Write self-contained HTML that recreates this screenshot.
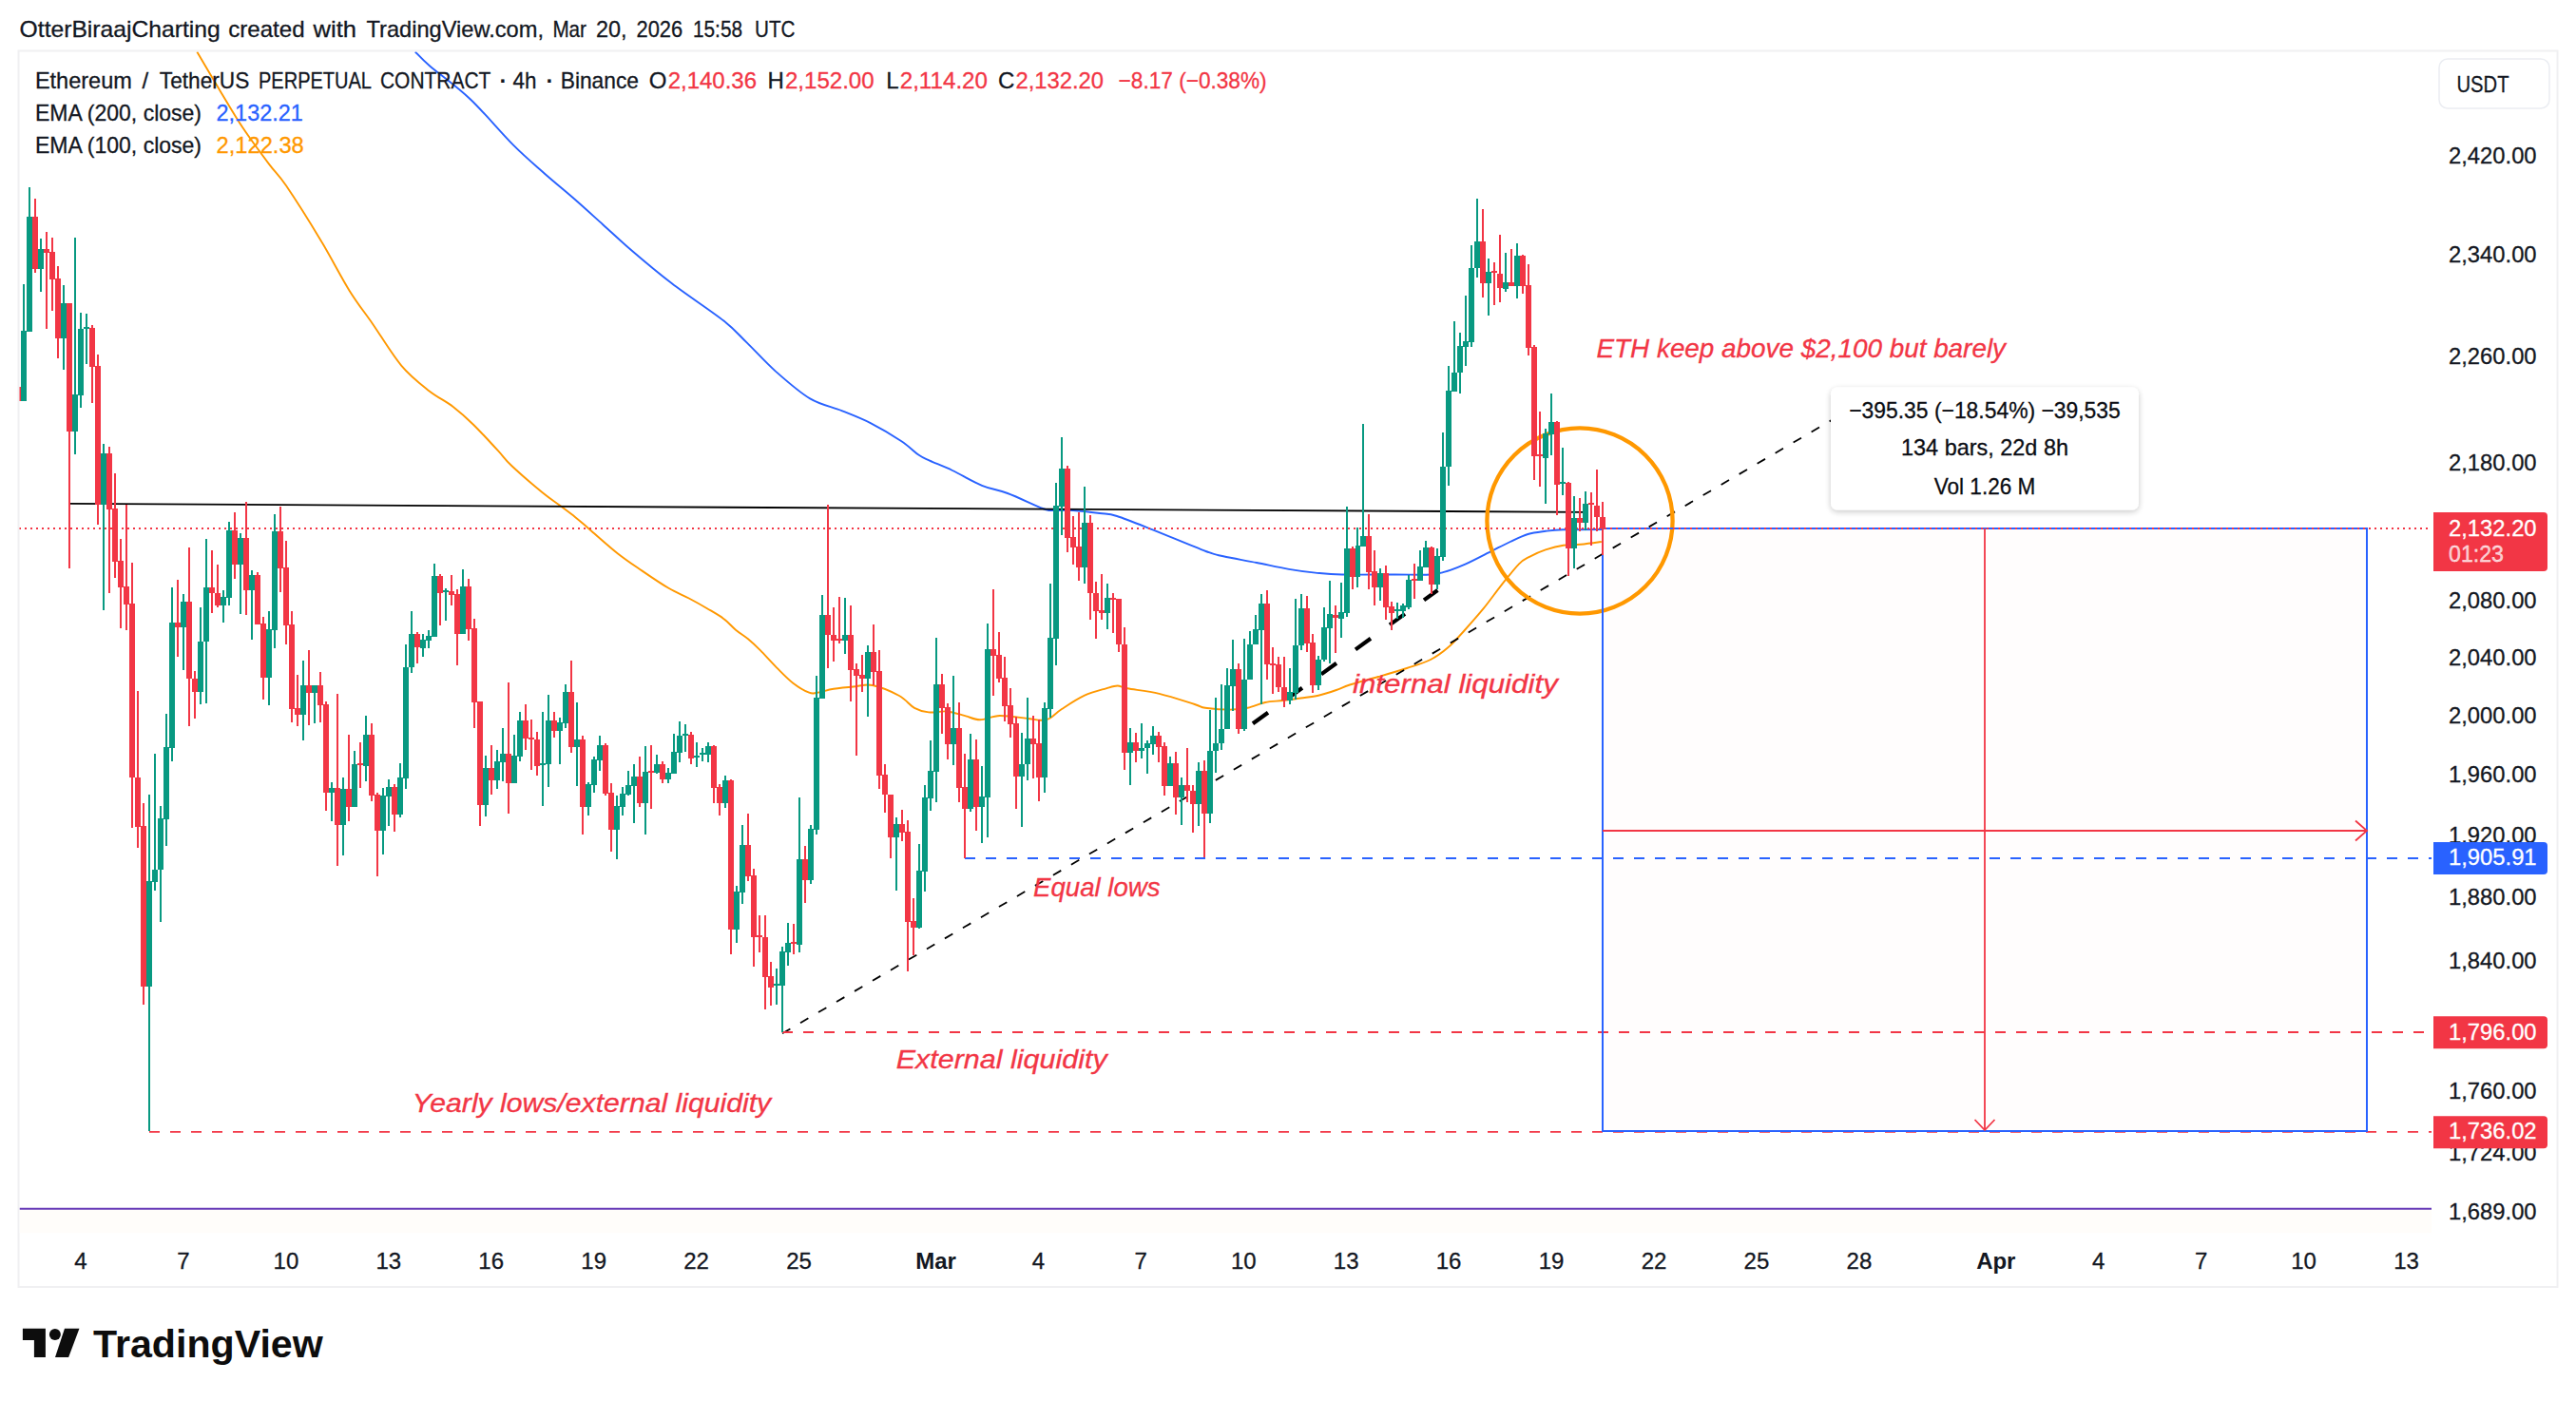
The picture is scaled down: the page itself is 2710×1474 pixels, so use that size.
<!DOCTYPE html>
<html><head><meta charset="utf-8"><title>ETHUSDT chart</title>
<style>html,body{margin:0;padding:0;background:#fff}svg{display:block}text{font-family:"Liberation Sans", "DejaVu Sans", sans-serif}</style>
</head><body>
<svg width="2710" height="1474" viewBox="0 0 2710 1474">
<rect width="2710" height="1474" fill="#fff"/>
<rect x="19.5" y="53.5" width="2671" height="1300.5" fill="#fff" stroke="#f0f0f2" stroke-width="2"/>
<defs><clipPath id="pane"><rect x="20.5" y="54.5" width="2537.5" height="1243"/></clipPath></defs>
<g clip-path="url(#pane)">
<rect x="20.5" y="1272" width="2537.5" height="25.6" fill="#fffdfa"/>
<rect x="1686" y="556" width="804" height="634" fill="#fffdfd"/>
<path d="M436.8 54.5C439.4 57 442.8 61.4 452.5 69.7C462.2 78 480.3 90.6 494.9 104.5C509.5 118.4 527.2 139.8 540.3 152.9C553.4 166 563 173.8 573.6 183.2C584.2 192.5 593.8 200.2 603.9 209C614 217.8 624.1 227.1 634.2 236.2C644.3 245.3 652.4 253.2 664.5 263.5C676.6 273.9 690.8 285.9 706.9 298.3C723 310.7 748.3 327.2 761.4 337.6C774.5 348 776.5 351.6 785.6 360.4C794.7 369.2 804.8 380.8 815.9 390.6C827 400.4 840.6 412.5 852.2 419.4C863.8 426.3 874.9 427.8 885.5 432.1C896.1 436.4 905.4 439.8 915.8 445.1C926.2 450.4 939.5 458.4 948 464C956.5 469.6 961.7 475.4 966.7 478.8C971.7 482.2 972.1 482 978 484.7C983.9 487.4 992.8 490.6 1002 495C1011.2 499.4 1023.3 506.8 1033 510.8C1042.7 514.8 1049.3 515 1060 519C1070.7 523 1089 532 1097 535C1105 538 1102.7 536.7 1108 537C1113.3 537.3 1120.8 536.5 1129 537C1137.2 537.5 1149.3 539 1157 540C1164.7 541 1165.7 540.1 1175 543C1184.3 545.9 1197.1 551.2 1212.7 557.4C1228.3 563.6 1256.1 575.4 1268.5 580C1280.9 584.6 1278.1 583.3 1287 585.3C1295.9 587.3 1310.5 589.7 1322 592C1333.5 594.3 1345.7 597.1 1356 598.9C1366.3 600.7 1374.5 601.7 1383.8 602.6C1393.1 603.5 1397.8 604.2 1411.8 604.5C1425.8 604.8 1452.2 604.5 1467.7 604.5C1483.2 604.5 1496.3 605 1505 604.5C1513.7 604 1513.7 603.6 1519.9 601.7C1526.1 599.8 1533.7 597 1542 593.3C1550.3 589.6 1562.2 583.2 1570 579.3C1577.8 575.4 1582.6 572.9 1588.8 570C1595 567.1 1601.2 563.9 1607.4 562C1613.6 560.1 1619.8 559.6 1626 558.8C1632.2 558 1634.6 557.6 1644.7 557.3C1654.8 557 1679.6 557 1686.6 557" fill="none" stroke="#2962FF" stroke-width="1.9" stroke-linejoin="round"/>
<path d="M207.3 54.5C211.3 61.3 223.4 82 231.5 95.4C239.6 108.8 247.1 121.9 255.7 134.8C264.3 147.7 275.4 162.5 283 172.6C290.6 182.7 291.9 181.9 301 195.3C310.1 208.7 326.4 234.5 337.5 252.9C348.6 271.3 358.6 291.3 367.7 305.9C376.8 320.5 382.9 327.6 392 340.7C401.1 353.8 412.4 372.9 422.2 384.6C432 396.3 441.9 403.7 451 410.9C460.1 418.1 468.9 421.9 476.7 427.9C484.5 433.9 490.2 439 498 446.7C505.8 454.4 517 466.6 523.7 473.9C530.5 481.2 530.7 482.9 538.5 490.3C546.3 497.7 562.1 511.2 570.7 518.2C579.3 525.2 584.3 528.2 590 532.5C595.7 536.8 600 539.9 605 543.9C610 547.9 612.5 550.3 620 556.7C627.5 563.1 640.7 575.1 650 582.4C659.3 589.7 666.7 594.5 675.6 600.6C684.5 606.7 695.2 614 703.4 618.8C711.6 623.6 718 625.9 724.8 629.5C731.6 633.1 737.9 636.6 744 640.2C750.1 643.8 756.2 647.1 761.2 650.9C766.2 654.6 769.7 659.1 774 662.7C778.3 666.3 782.7 668.7 787 672.3C791.3 675.9 794.8 679.1 799.8 684.1C804.8 689.1 811.3 696.6 817 702.3C822.7 708 828.3 714 834 718.4C839.7 722.8 846.9 727 851.2 728.7C855.5 730.4 855.4 729.4 859.7 728.7C864 728.1 870.3 725.9 877 724.8C883.7 723.7 893.2 722.8 900 722.2C906.8 721.6 910.3 719.4 918 721C925.7 722.6 938.7 728 946 732C953.3 736 956.8 741.9 962 744.8C967.2 747.7 971.3 748.8 977 749.4C982.7 750 989.8 747.9 996 748.5C1002.2 749.1 1008.7 751.3 1014.5 752.8C1020.3 754.3 1024.8 757.3 1031 757.3C1037.2 757.3 1043.4 753.2 1051.8 753C1060.2 752.8 1074.5 755.2 1081.6 756C1088.7 756.8 1090.9 757.8 1094.6 757.8C1098.3 757.8 1100.3 758 1104 756C1107.7 754 1110.8 750 1117 746C1123.2 742 1133.2 735.3 1141 731.7C1148.8 728.1 1157.8 726 1163.6 724.3C1169.4 722.6 1172 721.5 1175.7 721.5C1179.4 721.5 1178.7 722.9 1186 724.3C1193.3 725.7 1207.7 727.1 1219.5 729.9C1231.3 732.7 1248.7 738.5 1256.8 741C1264.9 743.5 1261.8 743.9 1268 744.8C1274.2 745.7 1286.6 746.6 1294 746.6C1301.4 746.6 1306.4 746.1 1312.6 744.8C1318.8 743.5 1324.8 740.3 1331 739C1337.2 737.7 1343.8 737.8 1350 737C1356.2 736.2 1362.3 735.4 1368.5 734.5C1374.7 733.6 1380.8 733.1 1387 731.7C1393.2 730.3 1400.3 727.9 1405.8 726C1411.3 724.1 1412.6 722.8 1420 720.5C1427.4 718.2 1440 714.9 1450 712C1460 709.1 1470.8 706 1480 703C1489.2 700 1497.7 697.7 1505 694C1512.3 690.3 1517.8 686 1523.6 681C1529.4 676 1533.8 670.9 1540 664C1546.2 657.1 1554.3 648 1560.9 639.9C1567.5 631.8 1573.3 623.4 1579.5 615.6C1585.7 607.8 1593.1 598.3 1598 593.3C1602.9 588.3 1604.3 588.3 1609 585.8C1613.7 583.3 1620 580.4 1626 578.4C1632 576.4 1638.5 574.6 1644.7 573.7C1650.9 572.8 1656.3 573.4 1663 572.8C1669.7 572.2 1681.2 570.5 1684.8 570" fill="none" stroke="#FF9800" stroke-width="1.9" stroke-linejoin="round"/>
<path d="M823 1087.3L1935 437.3" stroke="#000" stroke-width="1.8" stroke-dasharray="9.7 12.3" fill="none"/>
<path d="M1318 761.3L1512.4 621" stroke="#000" stroke-width="4.2" stroke-dasharray="19.7 24.7" fill="none"/>
<path d="M157 1190.8H2558" stroke="#F23645" stroke-width="1.8" stroke-dasharray="11 11" fill="none"/>
<path d="M823 1086H2558" stroke="#F23645" stroke-width="1.8" stroke-dasharray="11 11" fill="none"/>
<path d="M1015 903H2558" stroke="#2962FF" stroke-width="2" stroke-dasharray="11 11" fill="none"/>
<path d="M73 529.9L1668 538.8" stroke="#000" stroke-width="1.8" fill="none"/>
<circle cx="1662" cy="548" r="97.6" fill="none" stroke="#FF9800" stroke-width="4.3"/>
<rect x="1686" y="556" width="804" height="634" fill="none" stroke="#2962FF" stroke-width="2"/>
<path d="M20 556H2558" stroke="#F23645" stroke-width="2" stroke-dasharray="2 4" fill="none"/>
<path d="M20.5 1271.8H2558" stroke="#673AB7" stroke-width="2" fill="none"/>
<path d="M25 299V422M31 197V349M43 251V307M67 300V389M79 250V478M85 329V429M91 330V383M109 467V642M157 836V1190M163 793V937M169 848V970M175 751V890M181 618V801M193 625V705M211 639V741M217 567V740M235 621V655M241 549V637M253 561V646M265 600V673M283 643V742M289 541V682M319 695V779M331 721V761M349 823V864M361 818V900M373 790V849M385 753V822M403 829V899M409 820V869M421 803V860M427 678V830M433 643V708M445 667V691M451 663V682M457 593V670M469 619V653M487 599V667M511 795V859M523 789V830M529 766V822M541 773V824M547 749V801M571 749V848M577 731V828M589 755V804M595 720V766M607 739V827M619 823V858M625 796V834M631 774V811M649 837V904M655 828V858M661 811V837M667 804V866M679 785V878M691 794V814M703 808V824M709 772V814M715 759V802M721 762V791M733 781V807M739 787V801M745 781V802M763 816V850M775 932V992M781 868V951M817 1019V1057M823 996V1086M829 971V1016M841 839V1002M853 868V930M859 711V878M865 626V735M889 629V688M913 679V754M943 860V937M967 888V977M973 826V938M979 779V853M985 671V844M1003 711V805M1021 772V854M1033 806V887M1039 656V881M1075 771V870M1081 734V821M1099 739V834M1105 614V755M1111 508V700M1117 460V563M1141 512V614M1165 614V662M1189 766V826M1201 761V798M1207 779V814M1213 764V794M1231 796V827M1243 818V868M1261 802V869M1273 747V866M1279 734V813M1285 720V789M1291 703V767M1297 673V748M1309 672V769M1315 664V715M1321 647V678M1327 625V741M1357 703V741M1363 630V736M1369 625V684M1387 690V726M1393 639V696M1399 611V698M1411 613V671M1417 533V649M1428 555V618M1434 446V575M1452 598V632M1470 634V651M1476 635V650M1482 605V641M1494 579V611M1500 569V597M1512 577V620M1518 455V590M1524 385V511M1530 338V412M1536 350V414M1542 311V385M1548 258V365M1554 209V292M1566 272V332M1584 266V307M1596 256V314M1626 451V530M1632 414V479M1644 471V521M1656 522V598M1668 517V558" stroke="#089981" stroke-width="2" fill="none"/>
<path d="M22 348h6v74h-6zM28 228h6v121h-6zM40 262h6v21h-6zM64 319h6v37h-6zM76 415h6v39h-6zM82 346h6v70h-6zM88 344h6v2h-6zM106 477h6v54h-6zM154 927h6v111h-6zM160 915h6v13h-6zM166 861h6v54h-6zM172 786h6v76h-6zM178 655h6v132h-6zM190 633h6v27h-6zM208 675h6v53h-6zM214 618h6v57h-6zM232 628h6v9h-6zM238 558h6v71h-6zM250 566h6v28h-6zM262 605h6v16h-6zM280 662h6v51h-6zM286 559h6v104h-6zM316 721h6v31h-6zM328 721h6v8h-6zM346 829h6v5h-6zM358 830h6v38h-6zM370 804h6v45h-6zM382 773h6v33h-6zM400 837h6v37h-6zM406 828h6v10h-6zM418 818h6v39h-6zM424 702h6v117h-6zM430 667h6v35h-6zM442 673h6v9h-6zM448 669h6v5h-6zM454 606h6v64h-6zM466 621h6v2h-6zM484 617h6v50h-6zM508 808h6v39h-6zM520 801h6v20h-6zM526 793h6v9h-6zM538 795h6v29h-6zM544 758h6v38h-6zM568 803h6v2h-6zM574 758h6v46h-6zM586 760h6v9h-6zM592 728h6v33h-6zM604 778h6v8h-6zM616 825h6v24h-6zM622 799h6v27h-6zM628 784h6v16h-6zM646 848h6v25h-6zM652 835h6v14h-6zM658 826h6v10h-6zM664 817h6v10h-6zM676 812h6v33h-6zM688 804h6v9h-6zM700 813h6v7h-6zM706 791h6v23h-6zM712 774h6v18h-6zM718 772h6v2h-6zM730 795h6v2h-6zM736 792h6v2h-6zM742 785h6v9h-6zM760 821h6v24h-6zM772 938h6v40h-6zM778 889h6v50h-6zM814 1035h6v2h-6zM820 1001h6v36h-6zM826 992h6v10h-6zM838 904h6v90h-6zM850 872h6v54h-6zM856 734h6v139h-6zM862 647h6v88h-6zM886 668h6v6h-6zM910 686h6v28h-6zM940 867h6v14h-6zM964 916h6v60h-6zM970 839h6v78h-6zM976 811h6v29h-6zM982 720h6v92h-6zM1000 766h6v17h-6zM1018 799h6v52h-6zM1030 838h6v11h-6zM1036 683h6v156h-6zM1072 804h6v13h-6zM1078 777h6v27h-6zM1096 745h6v73h-6zM1102 671h6v75h-6zM1108 532h6v140h-6zM1114 493h6v40h-6zM1138 550h6v47h-6zM1162 629h6v16h-6zM1186 781h6v11h-6zM1198 787h6v3h-6zM1204 782h6v5h-6zM1210 774h6v9h-6zM1228 803h6v24h-6zM1240 826h6v13h-6zM1258 811h6v35h-6zM1270 790h6v66h-6zM1276 782h6v8h-6zM1282 767h6v15h-6zM1288 721h6v46h-6zM1294 704h6v18h-6zM1306 715h6v52h-6zM1312 678h6v37h-6zM1318 662h6v16h-6zM1324 635h6v28h-6zM1354 728h6v9h-6zM1360 679h6v50h-6zM1366 640h6v39h-6zM1384 694h6v27h-6zM1390 660h6v34h-6zM1396 646h6v15h-6zM1408 644h6v7h-6zM1414 577h6v68h-6zM1426 574h5v33h-5zM1431 564h6v11h-6zM1449 603h6v15h-6zM1467 641h6v2h-6zM1473 637h6v6h-6zM1479 610h6v29h-6zM1491 596h6v15h-6zM1497 576h6v21h-6zM1509 585h6v30h-6zM1515 491h6v95h-6zM1521 411h6v80h-6zM1527 392h6v20h-6zM1533 364h6v28h-6zM1539 359h6v6h-6zM1545 282h6v78h-6zM1551 254h6v28h-6zM1563 286h6v12h-6zM1581 297h6v7h-6zM1593 269h6v32h-6zM1623 456h6v26h-6zM1629 444h6v13h-6zM1641 507h6v2h-6zM1653 545h6v32h-6zM1665 530h6v20h-6z" fill="#089981"/>
<path d="M19 407V422M37 209V287M49 244V346M55 250V327M61 280V377M73 319V598M97 342V424M103 373V552M115 470V624M121 498V608M127 567V661M133 531V663M139 592V871M145 727V892M151 845V1057M187 610V691M199 576V764M205 706V756M223 579V645M229 594V639M247 539V609M259 528V647M271 602V657M277 649V736M295 533V623M301 569V678M307 643V760M313 710V764M325 684V763M337 707V760M343 738V853M355 730V911M367 773V864M379 781V829M391 761V843M397 834V922M415 825V875M439 665V698M463 604V658M475 605V637M481 620V700M493 609V674M499 651V766M505 738V869M517 784V836M535 718V856M553 741V789M559 757V810M565 770V816M583 749V776M601 695V792M613 774V878M637 782V837M643 824V896M673 796V849M685 784V851M697 801V824M727 770V804M751 784V845M757 825V858M769 820V1004M787 856V927M793 914V1017M799 963V1002M805 963V1062M811 1012V1058M835 972V1004M847 890V950M871 531V703M877 639V696M883 628V677M895 637V738M901 698V795M907 689V728M919 657V721M925 684V830M931 804V855M937 836V903M949 852V885M955 863V1022M961 945V1005M991 709V772M997 740V799M1009 739V844M1015 793V903M1027 778V874M1045 620V732M1051 665V718M1057 691V759M1063 724V776M1069 754V851M1087 753V819M1093 757V843M1123 490V581M1129 543V594M1135 539V611M1147 542V652M1153 612V672M1159 604V652M1171 624V666M1177 630V686M1183 660V810M1195 771V802M1219 770V802M1225 781V837M1237 791V857M1249 787V844M1255 826V876M1267 800V902M1303 698V772M1333 621V715M1339 681V730M1345 691V728M1351 691V744M1375 627V686M1381 667V729M1405 637V687M1423 575V620M1440 541V620M1446 579V637M1458 595V652M1464 633V663M1488 593V630M1506 575V625M1560 220V313M1572 276V321M1578 247V318M1590 262V301M1602 268V309M1608 278V374M1614 363V505M1620 433V512M1638 443V542M1650 507V606M1662 524V559M1674 518V574M1680 494V559M1686 528V584" stroke="#F23645" stroke-width="2" fill="none"/>
<path d="M16 407h6v15h-6zM34 228h6v55h-6zM46 262h6v4h-6zM52 265h6v29h-6zM58 293h6v63h-6zM70 319h6v135h-6zM94 345h6v41h-6zM100 385h6v146h-6zM112 477h6v59h-6zM118 535h6v56h-6zM124 590h6v28h-6zM130 617h6v19h-6zM136 635h6v183h-6zM142 818h6v52h-6zM148 869h6v169h-6zM184 655h6v5h-6zM196 633h6v81h-6zM202 714h6v14h-6zM220 618h6v6h-6zM226 624h6v13h-6zM244 558h6v36h-6zM256 566h6v55h-6zM268 605h6v52h-6zM274 656h6v57h-6zM292 559h6v39h-6zM298 597h6v61h-6zM304 657h6v89h-6zM310 745h6v7h-6zM322 721h6v8h-6zM334 721h6v21h-6zM340 741h6v93h-6zM352 829h6v39h-6zM364 830h6v19h-6zM376 803h6v2h-6zM388 773h6v64h-6zM394 836h6v38h-6zM412 828h6v29h-6zM436 667h6v14h-6zM460 606h6v18h-6zM472 622h6v4h-6zM478 625h6v42h-6zM490 617h6v45h-6zM496 661h6v78h-6zM502 738h6v109h-6zM514 808h6v13h-6zM532 793h6v31h-6zM550 758h6v19h-6zM556 776h6v2h-6zM562 778h6v28h-6zM580 758h6v11h-6zM598 728h6v58h-6zM610 778h6v71h-6zM634 784h6v51h-6zM640 834h6v39h-6zM670 817h6v28h-6zM682 811h6v2h-6zM694 804h6v16h-6zM724 773h6v25h-6zM748 785h6v44h-6zM754 828h6v17h-6zM766 821h6v157h-6zM784 889h6v33h-6zM790 921h6v65h-6zM796 984h6v2h-6zM802 986h6v42h-6zM808 1027h6v12h-6zM832 991h6v2h-6zM844 904h6v22h-6zM868 647h6v21h-6zM874 668h6v6h-6zM880 672h6v2h-6zM892 668h6v37h-6zM898 704h6v7h-6zM904 710h6v4h-6zM916 686h6v21h-6zM922 706h6v110h-6zM928 815h6v21h-6zM934 836h6v45h-6zM946 867h6v9h-6zM952 875h6v95h-6zM958 969h6v7h-6zM988 720h6v25h-6zM994 744h6v39h-6zM1006 766h6v63h-6zM1012 828h6v23h-6zM1024 799h6v50h-6zM1042 683h6v7h-6zM1048 689h6v25h-6zM1054 713h6v30h-6zM1060 742h6v20h-6zM1066 761h6v56h-6zM1084 777h6v6h-6zM1090 782h6v36h-6zM1120 493h6v73h-6zM1126 565h6v11h-6zM1132 575h6v22h-6zM1144 550h6v74h-6zM1150 624h6v19h-6zM1156 642h6v3h-6zM1168 629h6v2h-6zM1174 630h6v48h-6zM1180 678h6v114h-6zM1192 781h6v9h-6zM1216 774h6v12h-6zM1222 785h6v42h-6zM1234 803h6v36h-6zM1246 826h6v6h-6zM1252 832h6v14h-6zM1264 811h6v45h-6zM1300 704h6v63h-6zM1330 635h6v64h-6zM1336 698h6v2h-6zM1342 699h6v24h-6zM1348 723h6v14h-6zM1372 640h6v37h-6zM1378 676h6v45h-6zM1402 647h6v3h-6zM1420 577h6v30h-6zM1437 564h6v38h-6zM1443 601h6v17h-6zM1455 603h6v36h-6zM1461 638h6v7h-6zM1485 609h6v2h-6zM1503 576h6v39h-6zM1557 254h6v44h-6zM1569 285h6v2h-6zM1575 288h6v15h-6zM1587 297h6v4h-6zM1599 269h6v32h-6zM1605 300h6v66h-6zM1611 365h6v115h-6zM1617 478h6v2h-6zM1635 444h6v66h-6zM1647 508h6v69h-6zM1659 545h6v5h-6zM1671 529h6v2h-6zM1677 532h6v12h-6zM1683 544h6v12h-6z" fill="#F23645"/>
<path d="M1686 874H2490M2478 863.5L2490 874L2478 884.5" stroke="#F23645" stroke-width="1.8" fill="none"/>
<path d="M2088 556V1189M2077.5 1178L2088 1189L2098.5 1178" stroke="#F23645" stroke-width="1.8" fill="none"/>
<text x="1679.5" y="376" font-size="28" fill="#F23645" font-style="italic" textLength="430.5" lengthAdjust="spacingAndGlyphs" stroke="#F23645" stroke-width="0.3">ETH keep above $2,100 but barely</text>
<text x="1423" y="729.2" font-size="28" fill="#F23645" font-style="italic" textLength="215.8" lengthAdjust="spacingAndGlyphs" stroke="#F23645" stroke-width="0.3">internal liquidity</text>
<text x="1087" y="943.4" font-size="28" fill="#F23645" font-style="italic" textLength="133.6" lengthAdjust="spacingAndGlyphs" stroke="#F23645" stroke-width="0.3">Equal lows</text>
<text x="942.7" y="1124" font-size="28" fill="#F23645" font-style="italic" textLength="222" lengthAdjust="spacingAndGlyphs" stroke="#F23645" stroke-width="0.3">External liquidity</text>
<text x="433.8" y="1170.2" font-size="28" fill="#F23645" font-style="italic" textLength="377.4" lengthAdjust="spacingAndGlyphs" stroke="#F23645" stroke-width="0.3">Yearly lows/external liquidity</text>
</g>
<defs><filter id="sh" x="-10%" y="-20%" width="120%" height="150%"><feGaussianBlur in="SourceAlpha" stdDeviation="3"/><feOffset dy="2"/><feComponentTransfer><feFuncA type="linear" slope="0.22"/></feComponentTransfer><feMerge><feMergeNode/><feMergeNode in="SourceGraphic"/></feMerge></filter></defs>
<rect x="1926" y="407.5" width="324" height="129" rx="7" fill="#fff" filter="url(#sh)"/>
<text x="2088" y="440" font-size="24" fill="#0b0d13" text-anchor="middle" textLength="285.5" lengthAdjust="spacingAndGlyphs" stroke="#0b0d13" stroke-width="0.3">−395.35 (−18.54%) −39,535</text>
<text x="2088" y="479.4" font-size="24" fill="#0b0d13" text-anchor="middle" textLength="176" lengthAdjust="spacingAndGlyphs" stroke="#0b0d13" stroke-width="0.3">134 bars, 22d 8h</text>
<text x="2088" y="519.6" font-size="24" fill="#0b0d13" text-anchor="middle" textLength="106.5" lengthAdjust="spacingAndGlyphs" stroke="#0b0d13" stroke-width="0.3">Vol 1.26 M</text>
<text x="36.9" y="92.8" font-size="24" fill="#131722" textLength="101.9" lengthAdjust="spacingAndGlyphs" stroke="#131722" stroke-width="0.3">Ethereum</text>
<text x="149.4" y="92.8" font-size="24" fill="#131722" stroke="#131722" stroke-width="0.3">/</text>
<text x="167.8" y="92.8" font-size="24" fill="#131722" textLength="94.5" lengthAdjust="spacingAndGlyphs" stroke="#131722" stroke-width="0.3">TetherUS</text>
<text x="272" y="92.8" font-size="24" fill="#131722" textLength="119" lengthAdjust="spacingAndGlyphs" stroke="#131722" stroke-width="0.3">PERPETUAL</text>
<text x="400" y="92.8" font-size="24" fill="#131722" textLength="116.3" lengthAdjust="spacingAndGlyphs" stroke="#131722" stroke-width="0.3">CONTRACT</text>
<text x="525.5" y="92.8" font-size="24" fill="#131722" font-weight="bold">·</text>
<text x="539.5" y="92.8" font-size="24" fill="#131722" textLength="24.9" lengthAdjust="spacingAndGlyphs" stroke="#131722" stroke-width="0.3">4h</text>
<text x="574.4" y="92.8" font-size="24" fill="#131722" font-weight="bold">·</text>
<text x="589.7" y="92.8" font-size="24" fill="#131722" textLength="82.3" lengthAdjust="spacingAndGlyphs" stroke="#131722" stroke-width="0.3">Binance</text>
<text x="701.5" y="92.8" font-size="24" fill="#131722" text-anchor="end" stroke="#131722" stroke-width="0.3">O</text>
<text x="702.7" y="92.8" font-size="24" fill="#F23645" textLength="93.3" lengthAdjust="spacingAndGlyphs" stroke="#F23645" stroke-width="0.3">2,140.36</text>
<text x="824.8" y="92.8" font-size="24" fill="#131722" text-anchor="end" stroke="#131722" stroke-width="0.3">H</text>
<text x="826" y="92.8" font-size="24" fill="#F23645" textLength="93.6" lengthAdjust="spacingAndGlyphs" stroke="#F23645" stroke-width="0.3">2,152.00</text>
<text x="945.5" y="92.8" font-size="24" fill="#131722" text-anchor="end" stroke="#131722" stroke-width="0.3">L</text>
<text x="946.7" y="92.8" font-size="24" fill="#F23645" textLength="92.3" lengthAdjust="spacingAndGlyphs" stroke="#F23645" stroke-width="0.3">2,114.20</text>
<text x="1067.3" y="92.8" font-size="24" fill="#131722" text-anchor="end" stroke="#131722" stroke-width="0.3">C</text>
<text x="1068.5" y="92.8" font-size="24" fill="#F23645" textLength="92.5" lengthAdjust="spacingAndGlyphs" stroke="#F23645" stroke-width="0.3">2,132.20</text>
<text x="1176.6" y="92.8" font-size="24" fill="#F23645" textLength="156" lengthAdjust="spacingAndGlyphs" stroke="#F23645" stroke-width="0.3">−8.17 (−0.38%)</text>
<text x="36.9" y="126.7" font-size="24" fill="#131722" textLength="175.1" lengthAdjust="spacingAndGlyphs" stroke="#131722" stroke-width="0.3">EMA (200, close)</text>
<text x="227.6" y="126.7" font-size="24" fill="#2962FF" textLength="91.1" lengthAdjust="spacingAndGlyphs" stroke="#2962FF" stroke-width="0.3">2,132.21</text>
<text x="36.9" y="160.8" font-size="24" fill="#131722" textLength="175.1" lengthAdjust="spacingAndGlyphs" stroke="#131722" stroke-width="0.3">EMA (100, close)</text>
<text x="227.6" y="160.8" font-size="24" fill="#FF9800" textLength="92.2" lengthAdjust="spacingAndGlyphs" stroke="#FF9800" stroke-width="0.3">2,122.38</text>
<rect x="2566" y="62" width="116" height="52" rx="9" fill="#fff" stroke="#ebedf2" stroke-width="1.5"/>
<text x="2584.5" y="97" font-size="24" fill="#131722" textLength="55" lengthAdjust="spacingAndGlyphs" stroke="#131722" stroke-width="0.3">USDT</text>
<text x="2576" y="171.6" font-size="24" fill="#131722" textLength="92.6" lengthAdjust="spacingAndGlyphs" stroke="#131722" stroke-width="0.3">2,420.00</text>
<text x="2576" y="276" font-size="24" fill="#131722" textLength="92.6" lengthAdjust="spacingAndGlyphs" stroke="#131722" stroke-width="0.3">2,340.00</text>
<text x="2576" y="382.8" font-size="24" fill="#131722" textLength="92.6" lengthAdjust="spacingAndGlyphs" stroke="#131722" stroke-width="0.3">2,260.00</text>
<text x="2576" y="494.9" font-size="24" fill="#131722" textLength="92.6" lengthAdjust="spacingAndGlyphs" stroke="#131722" stroke-width="0.3">2,180.00</text>
<text x="2576" y="639.9" font-size="24" fill="#131722" textLength="92.6" lengthAdjust="spacingAndGlyphs" stroke="#131722" stroke-width="0.3">2,080.00</text>
<text x="2576" y="700" font-size="24" fill="#131722" textLength="92.6" lengthAdjust="spacingAndGlyphs" stroke="#131722" stroke-width="0.3">2,040.00</text>
<text x="2576" y="760.5" font-size="24" fill="#131722" textLength="92.6" lengthAdjust="spacingAndGlyphs" stroke="#131722" stroke-width="0.3">2,000.00</text>
<text x="2576" y="822.8" font-size="24" fill="#131722" textLength="92.6" lengthAdjust="spacingAndGlyphs" stroke="#131722" stroke-width="0.3">1,960.00</text>
<text x="2576" y="886.8" font-size="24" fill="#131722" textLength="92.6" lengthAdjust="spacingAndGlyphs" stroke="#131722" stroke-width="0.3">1,920.00</text>
<text x="2576" y="952" font-size="24" fill="#131722" textLength="92.6" lengthAdjust="spacingAndGlyphs" stroke="#131722" stroke-width="0.3">1,880.00</text>
<text x="2576" y="1019" font-size="24" fill="#131722" textLength="92.6" lengthAdjust="spacingAndGlyphs" stroke="#131722" stroke-width="0.3">1,840.00</text>
<text x="2576" y="1156" font-size="24" fill="#131722" textLength="92.6" lengthAdjust="spacingAndGlyphs" stroke="#131722" stroke-width="0.3">1,760.00</text>
<text x="2576" y="1221" font-size="24" fill="#131722" textLength="92.6" lengthAdjust="spacingAndGlyphs" stroke="#131722" stroke-width="0.3">1,724.00</text>
<text x="2576" y="1283" font-size="24" fill="#131722" textLength="92.6" lengthAdjust="spacingAndGlyphs" stroke="#131722" stroke-width="0.3">1,689.00</text>
<path d="M2560 539h116a4 4 0 0 1 4 4v54a4 4 0 0 1-4 4h-116z" fill="#F23645"/>
<text x="2576" y="563.6" font-size="24" fill="#fff" textLength="92.6" lengthAdjust="spacingAndGlyphs" stroke="#fff" stroke-width="0.3">2,132.20</text>
<text x="2576" y="591.4" font-size="24" fill="#fff" textLength="58" lengthAdjust="spacingAndGlyphs" stroke="#fff" stroke-width="0.3" fill-opacity="0.72">01:23</text>
<path d="M2560 886h116a4 4 0 0 1 4 4v26a4 4 0 0 1-4 4h-116z" fill="#2962FF"/>
<text x="2576" y="910.3" font-size="24" fill="#fff" textLength="92.6" lengthAdjust="spacingAndGlyphs" stroke="#fff" stroke-width="0.3">1,905.91</text>
<path d="M2560 1069.3h116a4 4 0 0 1 4 4v26a4 4 0 0 1-4 4h-116z" fill="#F23645"/>
<text x="2576" y="1093.6" font-size="24" fill="#fff" textLength="92.6" lengthAdjust="spacingAndGlyphs" stroke="#fff" stroke-width="0.3">1,796.00</text>
<path d="M2560 1174.2h116a4 4 0 0 1 4 4v26a4 4 0 0 1-4 4h-116z" fill="#F23645"/>
<text x="2576" y="1198.2" font-size="24" fill="#fff" textLength="92.6" lengthAdjust="spacingAndGlyphs" stroke="#fff" stroke-width="0.3">1,736.02</text>
<text x="85" y="1335.4" font-size="24" fill="#131722" text-anchor="middle" stroke="#131722" stroke-width="0.3">4</text>
<text x="192.9" y="1335.4" font-size="24" fill="#131722" text-anchor="middle" stroke="#131722" stroke-width="0.3">7</text>
<text x="300.9" y="1335.4" font-size="24" fill="#131722" text-anchor="middle" stroke="#131722" stroke-width="0.3">10</text>
<text x="408.8" y="1335.4" font-size="24" fill="#131722" text-anchor="middle" stroke="#131722" stroke-width="0.3">13</text>
<text x="516.7" y="1335.4" font-size="24" fill="#131722" text-anchor="middle" stroke="#131722" stroke-width="0.3">16</text>
<text x="624.7" y="1335.4" font-size="24" fill="#131722" text-anchor="middle" stroke="#131722" stroke-width="0.3">19</text>
<text x="732.6" y="1335.4" font-size="24" fill="#131722" text-anchor="middle" stroke="#131722" stroke-width="0.3">22</text>
<text x="840.5" y="1335.4" font-size="24" fill="#131722" text-anchor="middle" stroke="#131722" stroke-width="0.3">25</text>
<text x="984.5" y="1335.4" font-size="24" fill="#131722" text-anchor="middle" font-weight="bold">Mar</text>
<text x="1092.4" y="1335.4" font-size="24" fill="#131722" text-anchor="middle" stroke="#131722" stroke-width="0.3">4</text>
<text x="1200.3" y="1335.4" font-size="24" fill="#131722" text-anchor="middle" stroke="#131722" stroke-width="0.3">7</text>
<text x="1308.3" y="1335.4" font-size="24" fill="#131722" text-anchor="middle" stroke="#131722" stroke-width="0.3">10</text>
<text x="1416.2" y="1335.4" font-size="24" fill="#131722" text-anchor="middle" stroke="#131722" stroke-width="0.3">13</text>
<text x="1524.1" y="1335.4" font-size="24" fill="#131722" text-anchor="middle" stroke="#131722" stroke-width="0.3">16</text>
<text x="1632.1" y="1335.4" font-size="24" fill="#131722" text-anchor="middle" stroke="#131722" stroke-width="0.3">19</text>
<text x="1740" y="1335.4" font-size="24" fill="#131722" text-anchor="middle" stroke="#131722" stroke-width="0.3">22</text>
<text x="1847.9" y="1335.4" font-size="24" fill="#131722" text-anchor="middle" stroke="#131722" stroke-width="0.3">25</text>
<text x="1955.9" y="1335.4" font-size="24" fill="#131722" text-anchor="middle" stroke="#131722" stroke-width="0.3">28</text>
<text x="2099.8" y="1335.4" font-size="24" fill="#131722" text-anchor="middle" font-weight="bold">Apr</text>
<text x="2207.7" y="1335.4" font-size="24" fill="#131722" text-anchor="middle" stroke="#131722" stroke-width="0.3">4</text>
<text x="2315.7" y="1335.4" font-size="24" fill="#131722" text-anchor="middle" stroke="#131722" stroke-width="0.3">7</text>
<text x="2423.6" y="1335.4" font-size="24" fill="#131722" text-anchor="middle" stroke="#131722" stroke-width="0.3">10</text>
<text x="2531.5" y="1335.4" font-size="24" fill="#131722" text-anchor="middle" stroke="#131722" stroke-width="0.3">13</text>
<text x="20.6" y="38.8" font-size="24" fill="#131722" textLength="211.1" lengthAdjust="spacingAndGlyphs" stroke="#131722" stroke-width="0.3">OtterBiraajCharting</text>
<text x="240.2" y="38.8" font-size="24" fill="#131722" textLength="80.4" lengthAdjust="spacingAndGlyphs" stroke="#131722" stroke-width="0.3">created</text>
<text x="329.6" y="38.8" font-size="24" fill="#131722" textLength="45.3" lengthAdjust="spacingAndGlyphs" stroke="#131722" stroke-width="0.3">with</text>
<text x="385.5" y="38.8" font-size="24" fill="#131722" textLength="186.5" lengthAdjust="spacingAndGlyphs" stroke="#131722" stroke-width="0.3">TradingView.com,</text>
<text x="581.4" y="38.8" font-size="24" fill="#131722" textLength="35.6" lengthAdjust="spacingAndGlyphs" stroke="#131722" stroke-width="0.3">Mar</text>
<text x="627" y="38.8" font-size="24" fill="#131722" textLength="32.6" lengthAdjust="spacingAndGlyphs" stroke="#131722" stroke-width="0.3">20,</text>
<text x="669.5" y="38.8" font-size="24" fill="#131722" textLength="48.7" lengthAdjust="spacingAndGlyphs" stroke="#131722" stroke-width="0.3">2026</text>
<text x="729" y="38.8" font-size="24" fill="#131722" textLength="52" lengthAdjust="spacingAndGlyphs" stroke="#131722" stroke-width="0.3">15:58</text>
<text x="794" y="38.8" font-size="24" fill="#131722" textLength="42.4" lengthAdjust="spacingAndGlyphs" stroke="#131722" stroke-width="0.3">UTC</text>
<g fill="#0d0d0d"><path d="M23.9 1397.8h24v30.1h-12v-17.9h-12z"/><circle cx="57.9" cy="1404" r="6"/><path d="M68 1397.8h15.5l-11.4 30.1h-14.1z"/></g>
<text x="98" y="1427.9" font-size="41" fill="#0d0d0d" font-weight="bold" textLength="241.8" lengthAdjust="spacingAndGlyphs">TradingView</text>
</svg>
</body></html>
